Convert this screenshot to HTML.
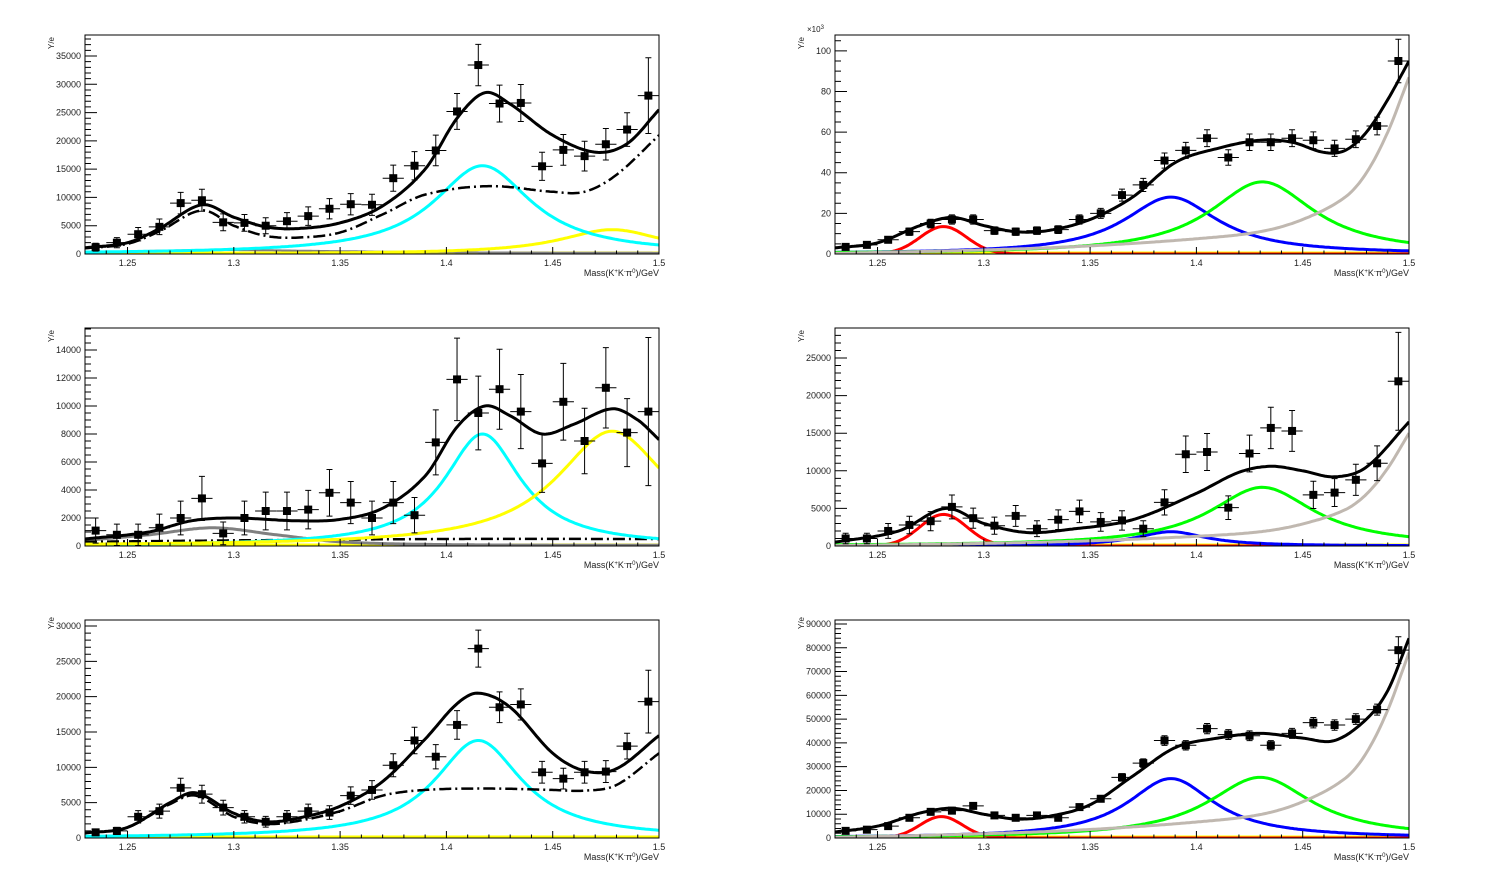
<!DOCTYPE html>
<html><head><meta charset="utf-8"><style>
html,body{margin:0;padding:0;background:#fff;}
svg{display:block;font-family:"Liberation Sans",sans-serif;}
</style></head><body>
<svg id="s" width="1498" height="876" xmlns="http://www.w3.org/2000/svg"></svg>
<script>
const S=document.getElementById('s');let out='';
function bw(A,m,g){return x=>A/(1+((x-m)/g)**2);}
function ga(A,m,s){return x=>A*Math.exp(-0.5*((x-m)/s)**2);}
function sp(pts){return x=>{let n=pts.length;if(x<=pts[0][0])return pts[0][1];if(x>=pts[n-1][0])return pts[n-1][1];
let i=0;while(pts[i+1][0]<x)i++;const p0=pts[Math.max(0,i-1)],p1=pts[i],p2=pts[i+1],p3=pts[Math.min(n-1,i+2)];
const t=(x-p1[0])/(p2[0]-p1[0]);const m1=(p2[1]-p0[1])/(p2[0]-p0[0])*(p2[0]-p1[0]),m2=(p3[1]-p1[1])/(p3[0]-p1[0])*(p2[0]-p1[0]);
const t2=t*t,t3=t2*t;return (2*t3-3*t2+1)*p1[1]+(t3-2*t2+t)*m1+(-2*t3+3*t2)*p2[1]+(t3-t2)*m2;};}
function sc(f,k){return x=>f(x)*k;}
const gray2=sp([[1.23,0.3],[1.3,2],[1.35,4],[1.4,7.5],[1.43,11],[1.45,17],[1.47,28],[1.48,40],[1.49,60],[1.5,87]]);
const C={cy:'#00ffff',ye:'#ffff00',gr:'#00ff00',bl:'#0000ff',re:'#ff0000',lg:'#c0b8b0',dg:'#808080',k:'#000'};
const panels=[
{x0:85,y0:35,h:219,ymax:38712,step:5000,minor:1000,c:20,ly:2,
pts:[1200,2000,3500,4800,9000,9500,5600,5500,5000,5800,6700,8000,8800,8700,13400,15600,18300,25200,33400,26600,26700,15500,18400,17300,19400,22000,28000],
curves:[[C.dg,2,sp([[1.23,300],[1.29,700],[1.35,500],[1.4,300],[1.5,200]])],[C.ye,3,bw(4300,1.478,0.03)],[C.cy,3,bw(15600,1.417,0.028)],
[C.k,2.5,sp([[1.23,1000],[1.25,1800],[1.265,4000],[1.285,7700],[1.30,5000],[1.315,3200],[1.33,2900],[1.35,3800],[1.37,7000],[1.39,10500],[1.42,12000],[1.45,11000],[1.465,11000],[1.48,14000],[1.5,21000]]),'12 4 2 4'],
[C.k,3,sp([[1.23,1100],[1.25,2000],[1.265,4500],[1.285,8700],[1.30,6500],[1.315,4800],[1.33,4500],[1.35,5500],[1.37,8500],[1.39,15000],[1.405,24000],[1.418,28500],[1.43,26500],[1.45,21000],[1.47,18000],[1.485,19500],[1.5,25500]])]]},
{x0:835,y0:35,h:219,ymax:107.8,step:20,minor:5,c:0.55,e3:true,ly:2,
pts:[3.5,4.5,7,11,15,17,17,11.5,11,11.5,12,17,20,29,34,46,51,57,47.5,55,55,57,56,52,56.5,63,95],
curves:[[C.re,3,ga(13.5,1.281,0.011)],[C.bl,3,bw(28,1.388,0.027)],[C.gr,3,bw(35.5,1.431,0.03)],[C.lg,3,gray2],
[C.k,3,sp([[1.23,3],[1.25,5.5],[1.27,14],[1.285,18],[1.30,14],[1.315,11],[1.33,11.5],[1.35,17],[1.37,28],[1.39,45],[1.41,52],[1.43,56],[1.445,55],[1.46,50],[1.47,51],[1.48,60],[1.49,76],[1.5,95]])]]},
{x0:85,y0:328,h:218,ymax:15571,step:2000,minor:500,c:27,ly:2,
pts:[1100,800,800,1300,2000,3400,900,2000,2500,2500,2600,3800,3100,2000,3100,2200,7400,11900,9500,11200,9600,5900,10300,7500,11300,8100,9600],
curves:[[C.dg,3,sp([[1.23,400],[1.26,800],[1.29,1300],[1.32,800],[1.35,300],[1.4,100],[1.5,50]])],
[C.k,2.5,sp([[1.23,300],[1.3,400],[1.4,500],[1.5,500]]),'12 4 2 4'],[C.cy,3,bw(8000,1.417,0.022)],[C.ye,3,bw(8200,1.478,0.032)],
[C.k,3,sp([[1.23,500],[1.26,1000],[1.28,1800],[1.30,2000],[1.33,1800],[1.35,1900],[1.37,2700],[1.39,5000],[1.405,8500],[1.418,10000],[1.43,9300],[1.445,8000],[1.46,8700],[1.478,9800],[1.49,9000],[1.5,7600]])]]},
{x0:835,y0:328,h:218,ymax:28989,step:5000,minor:1000,c:22,ly:2,
pts:[1000,1000,2000,2800,3300,5200,3700,2700,4000,2300,3500,4600,3200,3400,2300,5800,12200,12500,5100,12300,15700,15300,6800,7100,8800,11000,21900],
curves:[[C.re,3,ga(4200,1.281,0.011)],[C.bl,3,bw(1900,1.388,0.02)],[C.gr,3,bw(7800,1.431,0.03)],[C.lg,3,sc(gray2,15000/87)],
[C.k,3,sp([[1.23,500],[1.26,2000],[1.282,5000],[1.30,3000],[1.32,1800],[1.34,2200],[1.37,3500],[1.40,7000],[1.42,9800],[1.435,10600],[1.45,10000],[1.465,9200],[1.48,10500],[1.5,16500]])]]},
{x0:85,y0:620,h:218,ymax:30849,step:5000,minor:1000,c:16,ly:-3,
pts:[800,1000,3000,3800,7100,6200,4300,3000,2300,3000,3800,3600,6000,6800,10300,13800,11500,16000,26800,18500,18900,9300,8400,9300,9400,13000,19300],
curves:[[C.cy,3,bw(13800,1.415,0.025)],
[C.k,2.5,sp([[1.23,700],[1.25,1500],[1.27,4800],[1.282,6000],[1.30,3000],[1.315,2000],[1.33,2400],[1.35,3800],[1.37,6000],[1.39,6800],[1.42,7000],[1.45,6800],[1.465,6700],[1.48,7500],[1.5,12000]]),'12 4 2 4'],
[C.k,3,sp([[1.23,700],[1.25,1500],[1.27,5000],[1.282,6400],[1.30,3500],[1.315,2300],[1.33,2800],[1.35,4500],[1.37,8000],[1.39,14000],[1.405,19000],[1.415,20500],[1.43,18500],[1.45,12000],[1.465,9500],[1.48,9800],[1.5,14500]])]]},
{x0:835,y0:620,h:218,ymax:91682,step:10000,minor:2000,c:10,ly:-3,
pts:[3000,3500,5000,8500,11000,11500,13500,9500,8500,9500,8500,13000,16500,25500,31500,41000,39000,46000,43500,43000,39000,44000,48500,47500,50000,54000,79000],
curves:[[C.re,3,ga(9000,1.28,0.01)],[C.bl,3,bw(25000,1.388,0.025)],[C.gr,3,bw(25500,1.43,0.03)],[C.lg,3,sc(gray2,78000/87)],
[C.k,3,sp([[1.23,2500],[1.25,5000],[1.27,10500],[1.285,12500],[1.30,10000],[1.315,8000],[1.33,9000],[1.35,14000],[1.37,26000],[1.39,38000],[1.41,42000],[1.43,44000],[1.45,42000],[1.465,41000],[1.48,50000],[1.49,62000],[1.5,84000]])]]}
];
const W=574;
panels.forEach((p,i)=>{
 const X=m=>p.x0+(m-1.23)/0.27*W, Y=v=>p.y0+p.h-v/p.ymax*p.h, yb=p.y0+p.h;
 out+=`<clipPath id="c${i}"><rect x="${p.x0}" y="${p.y0}" width="${W}" height="${p.h}"/></clipPath>`;
 out+=`<g clip-path="url(#c${i})">`;
 out+=`<line x1="${p.x0}" y1="${yb-1}" x2="${p.x0+W}" y2="${yb-1}" stroke="#ffff00" stroke-width="3"/>`;
 p.curves.forEach(c=>{let d='';for(let k=0;k<=300;k++){const m=1.23+0.27*k/300;d+=(k?'L':'M')+X(m).toFixed(1)+','+Y(c[2](m)).toFixed(1);}
  out+=`<path d="${d}" fill="none" stroke="${c[0]}" stroke-width="${c[1]}" ${c[3]?'stroke-dasharray="'+c[3]+'"':''}/>`;});
 p.pts.forEach((v,k)=>{const m=1.235+0.01*k,cx=X(m),cy=Y(v);let e=p.c*Math.sqrt(v);if(k==26)e*=2;
  out+=`<path d="M${cx-10.6},${cy}H${cx+10.6}M${cx},${Y(v-e)}V${Y(v+e)}M${cx-3},${Y(v-e)}H${cx+3}M${cx-3},${Y(v+e)}H${cx+3}" stroke="#000" stroke-width="1" fill="none"/>`;
  out+=`<rect x="${cx-4}" y="${cy-4}" width="8" height="8" fill="#000"/>`;});
 out+='</g>';
 out+=`<rect x="${p.x0}" y="${p.y0}" width="${W}" height="${p.h}" fill="none" stroke="#000" stroke-width="1"/>`;
 let t='';
 for(let k=0;k<=27;k++){const m=1.23+0.01*k,x=X(m);const maj=(k-2)%5==0;t+=`M${x},${yb}V${yb-(maj?7:3.5)}`;
  if(maj){const lab=(Math.round(m*100)/100).toString();out+=`<text x="${x}" y="${yb+12}" font-size="9" text-anchor="middle" fill="#222">${lab}</text>`;}}
 for(let v=0;v<=p.ymax;v+=p.minor){const y=Y(v);const maj=Math.abs(v/p.step-Math.round(v/p.step))<1e-6;t+=`M${p.x0},${y}H${p.x0+(maj?12:6)}`;
  if(maj)out+=`<text x="${p.x0-4}" y="${y+3}" font-size="9" text-anchor="end" fill="#222">${Math.round(v)}</text>`;}
 out+=`<path d="${t}" stroke="#000" stroke-width="1" fill="none"/>`;
 out+=`<text transform="translate(${p.x0-31},${p.y0+p.ly}) rotate(-90)" font-size="8" text-anchor="end" fill="#222">Y/e</text>`;
 if(p.e3)out+=`<text x="${p.x0-28}" y="${p.y0-3}" font-size="8" fill="#222">×10<tspan dy="-3" font-size="6">3</tspan></text>`;
 out+=`<text x="${p.x0+W}" y="${yb+22}" font-size="9" text-anchor="end" fill="#222">Mass(K<tspan dy="-3" font-size="6">+</tspan><tspan dy="3">K</tspan><tspan dy="-3" font-size="6">-</tspan><tspan dy="3">π</tspan><tspan dy="-3" font-size="6">0</tspan><tspan dy="3">)/GeV</tspan></text>`;
});
S.innerHTML=out;
</script>
</body></html>
